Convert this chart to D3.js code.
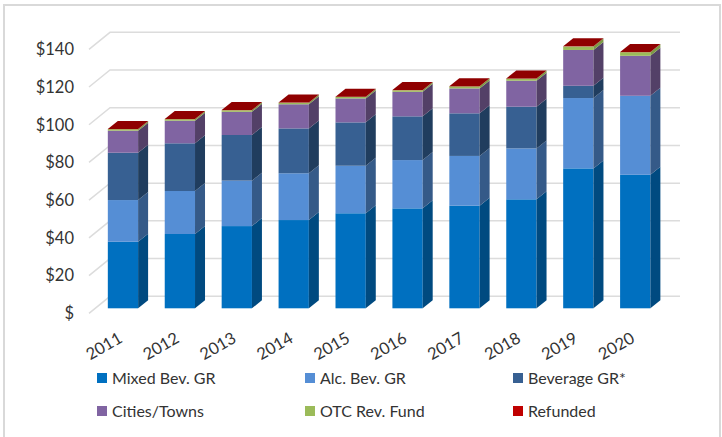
<!DOCTYPE html>
<html>
<head>
<meta charset="utf-8">
<script src="https://cdn.jsdelivr.net/npm/d3@7/dist/d3.min.js"></script>
<style>
html,body{margin:0;padding:0;background:#fff}
svg{display:block}
text{font-family:Lato,"Open Sans",sans-serif;fill:#333}
</style>
</head>
<body>
<svg id="c" width="722" height="437"></svg>
<script>
const years = ["2011","2012","2013","2014","2015","2016","2017","2018","2019","2020"];
const yTicks = [0,20,40,60,80,100,120,140];
const seriesNames = ["Mixed Bev. GR","Alc. Bev. GR","Beverage GR*","Cities/Towns","OTC Rev. Fund","Refunded"];
const mixedBev = [35.3,39.4,43.6,46.8,50.4,53.0,54.4,57.8,74.2,70.8];
const alcBev   = [22.1,22.8,24.1,24.8,25.2,25.6,26.4,27.0,37.3,41.9];
const beverage = [25.1,25.3,24.2,23.8,23.0,23.2,22.6,22.1,6.5,0];
const cities   = [11.7,12.0,12.3,12.8,12.7,13.0,13.2,13.8,19.0,21.2];
const otc      = [0.8,0.8,0.8,0.8,0.8,0.8,1.1,1.1,1.8,1.9];
const refunded = [0.1,0.1,0.1,0.1,0.1,0.1,0.1,0.1,0.1,0.1];
const seriesValues = [mixedBev,alcBev,beverage,cities,otc,refunded];

const frontColors = ["#0070c0","#558ed5","#376092","#8064a2","#9bbb59","#c00000"];
const legendColors = ["#0070c0","#558ed5","#376092","#8064a2","#9bbb59","#c00000"];
const sideColors  = ["#004a80","#355a88","#203d5e","#534067","#7d9a45","#800000"];
const topColor = "#8f0000";

const svg = d3.select("#c");
const depthX = 10, depthY = -8;          // bar depth
const wallX = 21, wallY = -17;           // floor-to-back-wall offset
const axisX = 89, axisOffsetY = 5;

const y = d3.scaleLinear().domain([0,140]).range([308.3,44.3]);
const x = d3.scaleBand().domain(years).range([94.5,663.7]).paddingInner(0.468).paddingOuter(0.234);

// outer frame (open at the bottom)
svg.append("path")
  .attr("d", d3.line()([[4,437],[4,5],[720,5],[720,437]]))
  .attr("fill","none").attr("stroke","#d9d9d9").attr("stroke-width",2);

// wall gridlines
const grid = svg.append("g").attr("fill","none").attr("stroke","#dcdcdc").attr("stroke-width",1.5);
const gridLine = d3.line();
yTicks.forEach(v=>{
  const fy = y(v)+axisOffsetY;
  grid.append("path").attr("d", gridLine([
    [axisX,fy],[axisX+wallX,fy+wallY],[680,fy+wallY]
  ]));
});

// y axis labels
const yAxis = d3.axisLeft(y).tickValues(yTicks).tickSize(0).tickPadding(0)
  .tickFormat(v=> v===0 ? "$" : "$"+v);
const yg = svg.append("g").attr("transform",`translate(74,${axisOffsetY})`).call(yAxis);
yg.select(".domain").remove();
yg.selectAll("text").attr("font-size",16.5).style("font-family",'Lato,"Open Sans",sans-serif').style("fill","#333");

// stacked 3D bars
const rows = years.map((yr,i)=>{
  const r = {year:yr};
  seriesNames.forEach((s,k)=>r[s]=seriesValues[k][i]);
  return r;
});
const stacked = d3.stack().keys(seriesNames)(rows);
const poly = d3.line();
const bars = svg.append("g");
stacked.forEach((layer,k)=>{
  const g = bars.append("g");
  layer.forEach(d=>{
    const x0 = x(d.data.year), x1 = x0 + x.bandwidth();
    const yb = y(d[0]), yt = y(d[1]);
    if (yb-yt <= 0) return;
    g.append("rect").attr("x",x0).attr("y",yt).attr("width",x1-x0).attr("height",yb-yt)
      .attr("fill",frontColors[k]);
    g.append("path").attr("d",poly([[x1,yb],[x1+depthX,yb+depthY],[x1+depthX,yt+depthY],[x1,yt]])+"Z")
      .attr("fill",sideColors[k]);
    if (k===seriesNames.length-1){
      g.append("path").attr("d",poly([[x0,yt],[x0+depthX,yt+depthY],[x1+depthX,yt+depthY],[x1,yt]])+"Z")
        .attr("fill",topColor);
    }
  });
});

// x axis labels
const xAxis = d3.axisBottom(x).tickSize(0).tickPadding(0);
const xg = svg.append("g").attr("transform","translate(-19,346)").call(xAxis);
xg.select(".domain").remove();
xg.selectAll("text")
  .attr("font-size",16.5).attr("text-anchor","middle").attr("y",0).attr("dy","0.35em")
  .attr("transform","rotate(-30)")
  .style("font-family",'Lato,"Open Sans",sans-serif').style("fill","#333");

// legend
const legendX = [97,305,513], legendY = [378,411];
const legend = svg.append("g");
seriesNames.forEach((name,i)=>{
  const lx = legendX[i%3], ly = legendY[Math.floor(i/3)];
  legend.append("rect").attr("x",lx).attr("y",ly-5).attr("width",10).attr("height",10).attr("fill",legendColors[i]);
  legend.append("text").attr("x",lx+15).attr("y",ly).attr("dy","0.35em").attr("font-size",16).text(name);
});
</script>
</body>
</html>
